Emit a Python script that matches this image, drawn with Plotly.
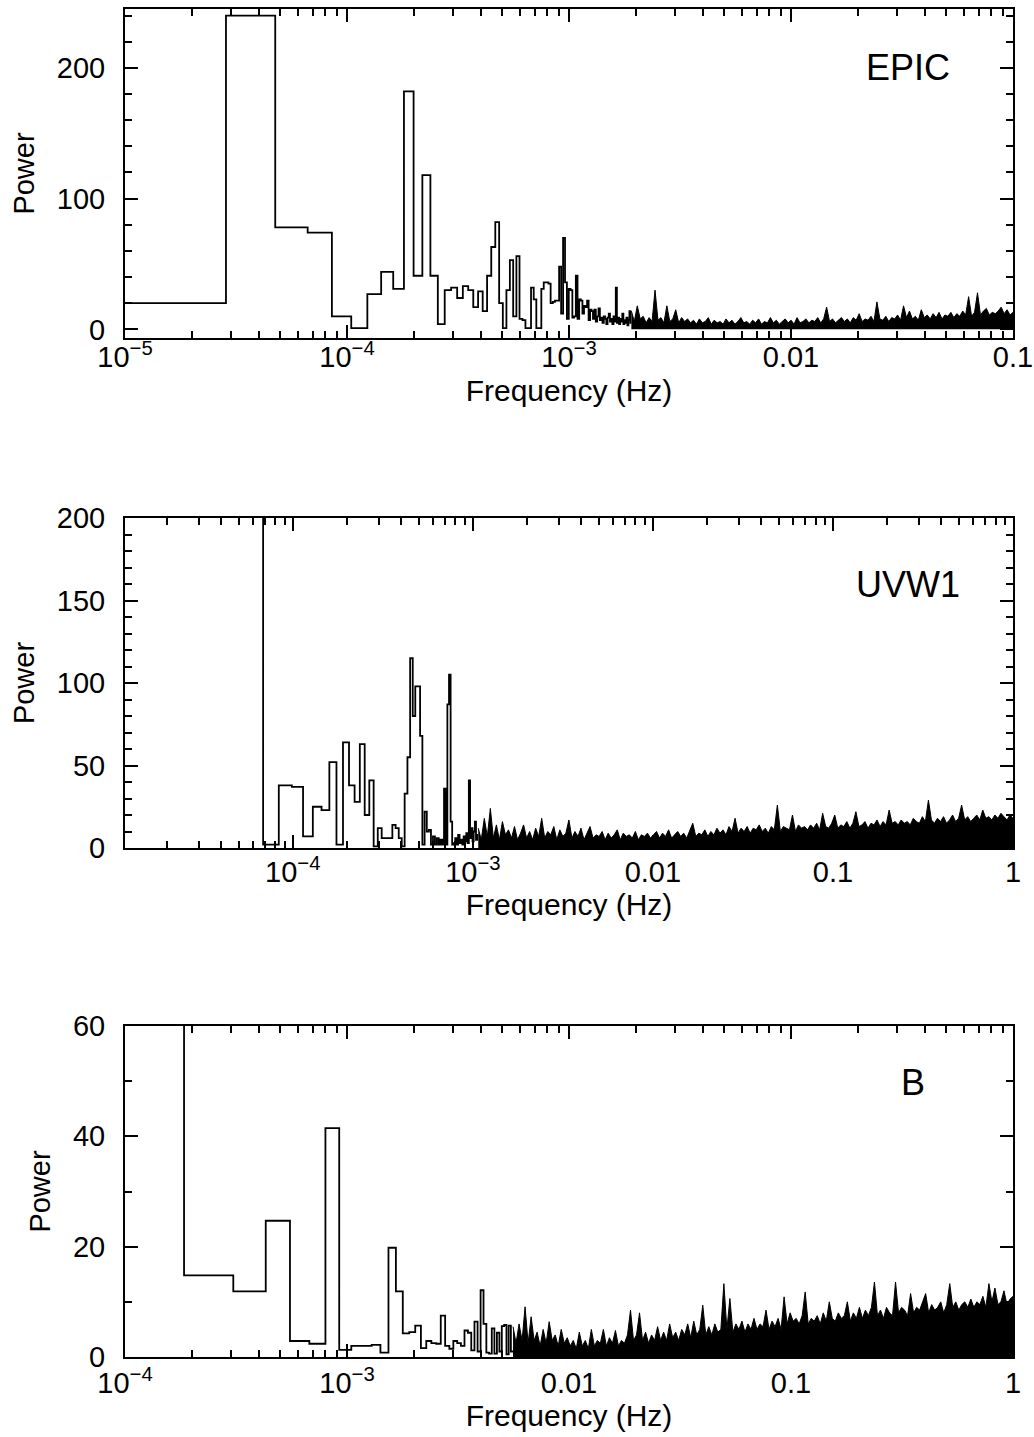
import numpy as np
import plotly.graph_objects as go

# ---------------- data ----------------
# EPIC periodogram: bin width and powers of the first bins (k = 1..100)
epic_df = 1.9e-5
epic_power = [20, 240, 78, 74, 10, 1, 27, 44, 31, 182,
              41, 118, 41, 4, 30, 32, 24, 33, 30, 17,
              29, 14, 41, 63, 82, 20, 1, 30, 53, 10,
              56, 8, 7, 1, 1, 32, 23, 1, 1, 31,
              36, 36, 35, 20, 21, 22, 22, 48, 12, 70,
              36, 8, 31, 30, 9, 10, 41, 8, 23, 22,
              12, 18, 17, 22, 7, 15, 14, 8, 15, 6,
              10, 16, 7, 9, 5, 10, 8, 4, 9, 12,
              6, 8, 4, 10, 6, 32, 5, 9, 4, 8,
              6, 12, 4, 7, 5, 9, 3, 7, 14, 5]
# upper envelope of the dense high-frequency noise (log-spaced up to 0.1 Hz)
epic_band_end = 0.1
epic_band = [14, 6, 18, 8, 10, 5, 9, 6, 30, 7,
             9, 5, 18, 6, 8, 15, 5, 9, 6, 8,
             5, 7, 4, 8, 5, 6, 9, 4, 7, 5,
             6, 4, 8, 5, 7, 4, 6, 9, 5, 6,
             4, 7, 5, 8, 4, 6, 5, 9, 5, 7,
             4, 6, 8, 5, 7, 4, 9, 5, 6, 8,
             5, 7, 6, 9, 5, 8, 17, 6, 8, 5,
             7, 9, 6, 8, 5, 9, 7, 12, 6, 8,
             7, 10, 6, 21, 8, 7, 10, 6, 9, 8,
             11, 7, 18, 9, 14, 8, 10, 7, 15, 9,
             11, 8, 12, 9, 13, 8, 11, 10, 13, 9,
             12, 10, 14, 11, 25, 10, 13, 28, 11, 14,
             16, 11, 13, 12, 14, 17, 12, 15, 11, 13]

# UVW1 periodogram (k = 1..70), first four bins are off scale
uvw1_df = 1.52e-5
uvw1_power = [350, 300, 280, 260, 2, 38, 37, 7, 25, 23,
              52, 2, 64, 38, 28, 63, 20, 41, 1, 12,
              6, 6, 6, 14, 12, 6, 1, 33, 55, 115,
              80, 98, 98, 68, 2, 22, 10, 11, 2, 7,
              2, 6, 2, 5, 2, 36, 2, 87, 105, 16,
              2, 3, 6, 2, 8, 3, 5, 2, 7, 4,
              9, 3, 41, 6, 12, 4, 10, 16, 5, 8]
uvw1_band_end = 1.0
uvw1_band = [12, 5, 18, 7, 24, 6, 14, 5, 16, 8,
             11, 6, 13, 5, 9, 14, 6, 10, 5, 12,
             7, 18, 6, 10, 8, 13, 5, 11, 7, 9,
             17, 6, 10, 7, 12, 5, 9, 13, 6, 8,
             7, 10, 5, 9, 6, 8, 11, 5, 9, 7,
             8, 6, 10, 5, 8, 7, 9, 6, 8, 10,
             6, 9, 7, 11, 6, 8, 10, 7, 9, 6,
             10, 15, 7, 9, 8, 11, 7, 10, 8, 12,
             9, 11, 8, 13, 10, 18, 9, 12, 10, 13,
             9, 12, 11, 14, 10, 12, 9, 13, 11, 26,
             10, 13, 12, 11, 20, 10, 14, 12, 13, 11,
             14, 12, 15, 11, 21, 13, 12, 15, 20, 12,
             14, 13, 16, 12, 15, 22, 13, 14, 16, 12,
             15, 14, 17, 13, 16, 14, 23, 15, 16, 14,
             17, 15, 16, 14, 18, 16, 15, 19, 16, 29,
             17, 15, 18, 16, 19, 15, 17, 20, 16, 18,
             26, 17, 19, 16, 18, 20, 17, 23, 18, 19,
             17, 20, 18, 21, 19, 17, 20, 18]

# B periodogram (k = 1..45), first bin off scale
b_df = 1.23e-4
b_power = [90, 14.8, 11.9, 24.7, 2.9, 2.4, 41.5, 1.3, 2.0, 2.0,
           2.2, 0.8, 19.8, 11.9, 4.3, 4.5, 5.7, 1.6, 2.9, 2.5,
           2.4, 7.5, 2.0, 1.5, 2.9, 2.5, 2.0, 4.8, 4.4, 1.2,
           6.4, 1.0, 12.1, 6.0, 0.8, 0.6, 5.2, 0.6, 4.4, 1.0,
           5.6, 5.8, 0.5, 5.7, 1.0]
b_band_end = 1.0
b_band = [5.5, 2.5, 6, 3, 9.1, 2.5, 7.3, 3, 4.5, 2,
          5, 2.5, 6.4, 3, 4, 2, 5, 2.5, 3.5, 2,
          3, 1.5, 4.5, 2, 3, 1.5, 5, 2, 3, 2.5,
          5, 2, 3.5, 2.5, 4.8, 2, 3, 2.5, 4, 8.5,
          3, 4, 8, 3, 4.5, 2.5, 4, 3, 5.5, 3,
          4.5, 3, 6, 3.5, 4.5, 3, 5, 4, 6, 3.5,
          6.5, 4, 5, 9.4, 4, 5.5, 4, 6, 4.5, 5,
          13.3, 5, 10.6, 4.5, 6, 5, 6.5, 4.5, 6, 5,
          7, 5, 6, 5.5, 8.5, 5, 6.5, 5.5, 7, 5,
          10.9, 6, 8, 6.5, 7, 6, 7.5, 11.8, 6, 7,
          6.5, 7.5, 6, 8, 6.5, 10, 7, 6.5, 8, 7,
          7.5, 10, 6.5, 8, 7, 9, 7, 8.5, 7.5, 9,
          13.6, 7.5, 8.5, 7, 9, 8, 7.5, 13.6, 8, 9,
          8.5, 7.5, 11.5, 8, 9, 8.5, 10, 11.5, 8, 9.5,
          8.5, 9, 10, 8, 9.5, 13.3, 9, 10, 8.5, 9.5,
          10, 9, 10.5, 9, 10, 9.5, 11, 9, 13.3, 10,
          12.5, 9.5, 10, 12, 9.5, 10.5, 11]

panel_labels = ["EPIC", "UVW1", "B"]
x_title = "Frequency (Hz)"
y_title = "Power"

# ---------------- helpers ----------------
FONT = "Liberation Sans, Arial, Helvetica, sans-serif"


def step_xy(df, powers):
    n = len(powers)
    edges = (np.arange(1, n + 2) - 0.5) * df
    return list(edges), list(powers) + [powers[-1]]


def band_x(df, n_bins, f_end, values):
    return list(np.geomspace((n_bins + 0.5) * df, f_end, len(values)))


def minor_log(lo_exp, hi_exp):
    return [m * 10.0 ** e for e in range(lo_exp, hi_exp) for m in range(2, 10)]


fig = go.Figure()

series = [
    (epic_df, epic_power, epic_band_end, epic_band, "x", "y"),
    (uvw1_df, uvw1_power, uvw1_band_end, uvw1_band, "x2", "y2"),
    (b_df, b_power, b_band_end, b_band, "x3", "y3"),
]
for df, pw, fend, band, xa, ya in series:
    sx, sy = step_xy(df, pw)
    fig.add_trace(go.Scatter(x=sx, y=sy, mode="lines", line_shape="hv",
                             line=dict(color="black", width=1.8),
                             xaxis=xa, yaxis=ya, showlegend=False))
    fig.add_trace(go.Scatter(x=band_x(df, len(pw), fend, band), y=band,
                             mode="lines", line=dict(color="black", width=1),
                             fill="tozeroy", fillcolor="black",
                             xaxis=xa, yaxis=ya, showlegend=False))

common = dict(showline=True, linecolor="black", linewidth=2, mirror="allticks",
              ticks="inside", ticklen=13, tickwidth=2, tickcolor="black",
              showgrid=False, zeroline=False, automargin=False,
              tickfont=dict(size=29, color="black", family=FONT))

PLOT_H = 1437 - 9 - 80
dom1 = [(1357 - 338) / PLOT_H, 1.0]
dom2 = [(1357 - 848) / PLOT_H, (1357 - 518) / PLOT_H]
dom3 = [0.0, (1357 - 1026) / PLOT_H]


def xaxis(rng, lo_exp, hi_exp, vals, texts, anchor, lab_standoff, title_standoff):
    return dict(common, type="log", range=rng, domain=[0, 1], anchor=anchor,
                tickmode="array", tickvals=vals, ticktext=texts,
                ticklabelstandoff=lab_standoff,
                minor=dict(tickmode="array", tickvals=minor_log(lo_exp, hi_exp),
                           ticks="inside", ticklen=7, tickwidth=2, tickcolor="black",
                           showgrid=False),
                title=dict(text=x_title, standoff=title_standoff,
                           font=dict(size=30, color="black", family=FONT)))


def yaxis(rng, dom, vals, minor_dt, anchor):
    return dict(common, range=rng, domain=dom, anchor=anchor,
                tickmode="array", tickvals=vals, ticklabelstandoff=12,
                minor=dict(tick0=0, dtick=minor_dt, ticks="inside", ticklen=7,
                           tickwidth=2, tickcolor="black", showgrid=False),
                title=dict(text=y_title, standoff=14,
                           font=dict(size=29, color="black", family=FONT)))


fig.update_layout(
    width=1034, height=1437,
    margin=dict(l=125, r=21, t=9, b=80, autoexpand=False),
    paper_bgcolor="white", plot_bgcolor="white",
    font=dict(family=FONT, color="black"),
    xaxis=xaxis([-5, -1], -5, -1, [1e-5, 1e-4, 1e-3, 1e-2, 1e-1],
                ["10<sup>−5</sup>", "10<sup>−4</sup>", "10<sup>−3</sup>", "0.01", "0.1"],
                "y", -8, 8),
    yaxis=yaxis([-6.6, 245], dom1, [0, 100, 200], 20, "x"),
    xaxis2=xaxis([-4.932, 0], -5, 0, [1e-4, 1e-3, 1e-2, 1e-1, 1],
                 ["10<sup>−4</sup>", "10<sup>−3</sup>", "0.01", "0.1", "1"],
                 "y2", -3, 2),
    yaxis2=yaxis([0, 200], dom2, [0, 50, 100, 150, 200], 10, "x2"),
    xaxis3=xaxis([-4, 0], -4, 0, [1e-4, 1e-3, 1e-2, 1e-1, 1],
                 ["10<sup>−4</sup>", "10<sup>−3</sup>", "0.01", "0.1", "1"],
                 "y3", -1, 5),
    yaxis3=yaxis([0, 60], dom3, [0, 20, 40, 60], 10, "x3"),
)

label_pos = [(0.882, 0.822, "x domain", "y domain"),
             (0.882, 0.800, "x2 domain", "y2 domain"),
             (0.887, 0.830, "x3 domain", "y3 domain")]
for text, (lx, ly, xr, yr) in zip(panel_labels, label_pos):
    fig.add_annotation(text=text, x=lx, y=ly, xref=xr, yref=yr, showarrow=False,
                       xanchor="center", yanchor="middle",
                       font=dict(size=36, color="black", family=FONT))

fig.write_html("out.html",
               config={"displayModeBar": False, "staticPlot": True},
               post_script="document.body.style.margin='0px';"
                           "document.body.style.padding='0px';")
